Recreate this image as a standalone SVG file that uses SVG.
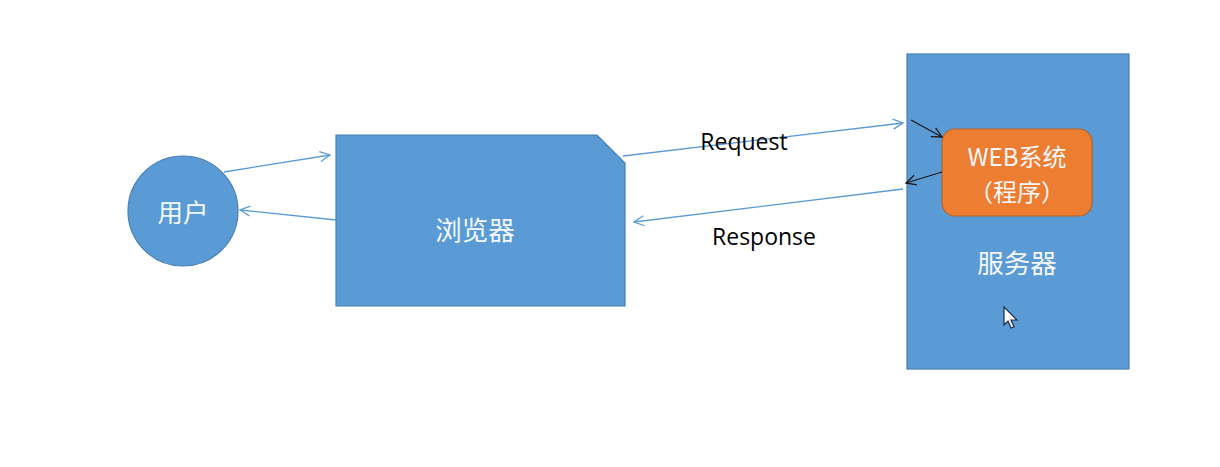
<svg xmlns="http://www.w3.org/2000/svg" width="1220" height="467" viewBox="0 0 1220 467">
<style>
.blue{fill:#5B9BD5;stroke:#4A7FB5;stroke-width:1.2}
.cn{font-family:"Noto Sans CJK SC","Noto Sans",sans-serif;fill:#F4F8FC;text-anchor:middle;dominant-baseline:central}
.lat{font-family:"Open Sans","Liberation Sans",sans-serif;fill:#000000;text-anchor:middle;dominant-baseline:central}
.ln{fill:none;stroke:#5B9BD5;stroke-width:1.3}
.bk{fill:none;stroke:#1a1a1a;stroke-width:1.3}
</style>
<defs>
<marker id="ab" viewBox="0 0 12 12" refX="11" refY="6" markerWidth="12" markerHeight="12" markerUnits="userSpaceOnUse" orient="auto">
<path d="M1,1 L11,6 L1,11" fill="none" stroke="#5B9BD5" stroke-width="1.3"/>
</marker>
<marker id="ak" viewBox="0 0 12 12" refX="11" refY="6" markerWidth="12" markerHeight="12" markerUnits="userSpaceOnUse" orient="auto">
<path d="M1,1 L11,6 L1,11" fill="none" stroke="#1a1a1a" stroke-width="1.3"/>
</marker>
</defs>
<rect width="1220" height="467" fill="#FFFFFF"/>
<g id="server">
<rect class="blue" x="907" y="54" width="222" height="315"/>
<text class="cn" x="1017" y="261" font-size="26.5">服务器</text>
</g>
<g id="web">
<rect x="942" y="129" width="150" height="87" rx="13" fill="#ED7D31" stroke="#B5652A" stroke-width="1.2"/>
<text class="cn" x="1017" y="155" font-size="24">WEB系统</text>
<text class="cn" x="1017" y="190.5" font-size="24">（程序）</text>
</g>
<g id="user">
<circle class="blue" cx="183" cy="211" r="55"/>
<text class="cn" x="183" y="210" font-size="25.5">用户</text>
</g>
<g id="browser">
<path class="blue" d="M336,135 L597,135 L625,163 L625,306 L336,306 Z"/>
<text class="cn" x="475" y="228" font-size="26.5">浏览器</text>
</g>
<g id="connectors">
<line class="ln" x1="224" y1="172" x2="330" y2="155" marker-end="url(#ab)"/>
<line class="ln" x1="336" y1="220" x2="240" y2="210" marker-end="url(#ab)"/>
<line class="ln" x1="623" y1="156" x2="903" y2="123" marker-end="url(#ab)"/>
<line class="ln" x1="903" y1="189" x2="634" y2="222" marker-end="url(#ab)"/>
<line class="bk" x1="911" y1="120" x2="942" y2="137" marker-end="url(#ak)"/>
<line class="bk" x1="942" y1="172" x2="906" y2="183" marker-end="url(#ak)"/>
<text class="lat" x="744" y="141" font-size="23">Request</text>
<text class="lat" x="764" y="236" font-size="23">Response</text>
</g>
<g id="cursor">
<path d="M1004,307 L1004,325 L1008,321 L1011,328 L1014,327 L1011,320 L1017,320 Z" fill="#FFFFFF" stroke="#1a2a4a" stroke-width="1.2"/>
</g>
</svg>
